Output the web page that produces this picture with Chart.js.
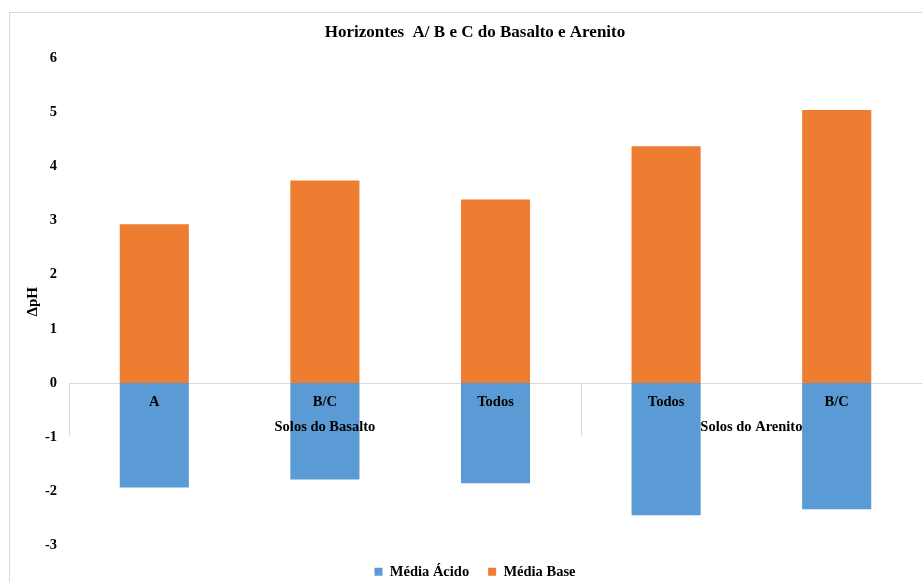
<!DOCTYPE html>
<html>
<head>
<meta charset="utf-8">
<script src="https://cdn.jsdelivr.net/npm/chart.js@4"></script>
<style>
  html, body { margin: 0; padding: 0; background: #fff; overflow: hidden; }
  #frame { position: absolute; left: 9px; top: 12px; width: 2000px; height: 2000px; border: 1px solid #d9d9d9; }
  #wrap { position: absolute; left: 0; top: 0; width: 922px; height: 589px; }
</style>
</head>
<body>
<div id="frame"></div>
<div id="wrap"><canvas id="myChart"></canvas></div>
<script>
// categories (horizonte) and soil groups
var categories = ['A', 'B/C', 'Todos', 'Todos', 'B/C'];
var groups = [
   { label: 'Solos do Basalto', from: 0, to: 2 },
   { label: 'Solos do Arenito', from: 3, to: 4 }
];

// delta pH values
var mediaAcido = [-1.93, -1.78, -1.85, -2.44, -2.33];
var mediaBase = [2.93, 3.74, 3.39, 4.37, 5.04];

var yTicks = { min: -3, max: 6, step: 1 };

var serif = "'Liberation Serif', 'Times New Roman', serif";

// group labels + separators below the zero line
const groupLabels = {
   id: 'groupLabels',
   afterDraw(chart) {
      const ctx = chart.ctx;
      const x = chart.scales.x;
      const y0 = chart.scales.y.getPixelForValue(0);
      const half = (x.getPixelForValue(1) - x.getPixelForValue(0)) / 2;
      ctx.save();
      ctx.strokeStyle = '#d9d9d9';
      ctx.lineWidth = 1;
      groups.forEach(function (g) {
         const left = Math.round(x.getPixelForValue(g.from) - half) + 0.5;
         ctx.beginPath();
         ctx.moveTo(left, y0);
         ctx.lineTo(left, y0 + 53);
         ctx.stroke();
      });
      ctx.fillStyle = '#000';
      ctx.font = 'bold 14.5px ' + serif;
      ctx.textAlign = 'center';
      ctx.textBaseline = 'middle';
      groups.forEach(function (g) {
         const cx = (x.getPixelForValue(g.from) + x.getPixelForValue(g.to)) / 2;
         ctx.fillText(g.label, cx, y0 + 44);
      });
      ctx.restore();
   }
};

const ctx = document.getElementById('myChart').getContext('2d');
const myChart = new Chart(ctx, {
   type: 'bar',
   data: {
      labels: categories,
      datasets: [{
         label: 'Média Ácido',
         data: mediaAcido,
         backgroundColor: '#5B9BD5',
         categoryPercentage: 0.405,
         barPercentage: 1
      }, {
         label: 'Média Base',
         data: mediaBase,
         backgroundColor: '#ED7D31',
         categoryPercentage: 0.405,
         barPercentage: 1
      }]
   },
   options: {
      responsive: true,
      maintainAspectRatio: false,
      animation: false,
      layout: { padding: { left: 28, right: 0, top: 0, bottom: 0 } },
      plugins: {
         title: {
            display: true,
            text: 'Horizontes  A/ B e C do Basalto e Arenito',
            color: '#000',
            font: { family: serif, size: 17, weight: 'bold' },
            padding: { top: 22.8, bottom: 14.8 }
         },
         legend: {
            position: 'bottom',
            labels: {
               boxWidth: 8,
               boxHeight: 8,
               padding: 19,
               color: '#000',
               font: { family: serif, size: 14.5, weight: 'bold' }
            }
         },
         tooltip: { enabled: false }
      },
      scales: {
         x: {
            stacked: true,
            position: { y: 0 },
            grid: { display: true, drawOnChartArea: false, drawTicks: false },
            border: { display: true, color: '#d9d9d9', width: 1 },
            ticks: {
               z: 1,
               color: '#000',
               padding: 11,
               font: { family: serif, size: 14.5, weight: 'bold' }
            }
         },
         y: {
            stacked: true,
            min: yTicks.min,
            max: yTicks.max,
            afterFit(scale) { scale.width = 41; },
            grid: { display: false, drawTicks: false },
            border: { display: false },
            ticks: {
               stepSize: yTicks.step,
               color: '#000',
               padding: 12,
               font: { family: serif, size: 14.5, weight: 'bold' }
            },
            title: {
               display: true,
               text: 'ΔpH',
               color: '#000',
               font: { family: serif, size: 15, weight: 'bold' },
               padding: { top: -4, bottom: 0 }
            }
         }
      }
   },
   plugins: [groupLabels]
});
</script>
</body>
</html>
